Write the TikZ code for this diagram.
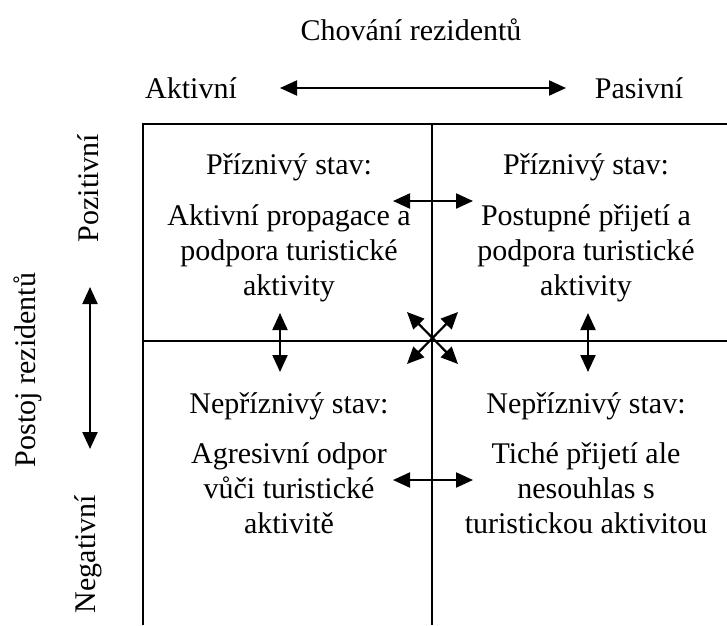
\documentclass[tikz,border=0pt]{standalone}
\usepackage{fontspec}
\setmainfont{Liberation Serif}
\usetikzlibrary{arrows.meta}
\tikzset{
  lbl/.style={font=\fontsize{30}{35}\selectfont, inner sep=0pt, align=center},
  gridline/.style={line width=2pt},
  dblarrow/.style={line width=2.2pt, {Triangle[length=17pt,width=15pt]}-{Triangle[length=17pt,width=15pt]}},
}
\begin{document}
\begin{tikzpicture}[x=1pt,y=-1pt]
\useasboundingbox (0,0) rectangle (727,625);
% grid
\draw[gridline] (143,625) -- (143,124) -- (727,124);
\draw[gridline] (432,124) -- (432,625);
\draw[gridline] (143,341) -- (727,341);
% top labels
\node[lbl] (title) at (411,30) {Chování rezidentů};
\node[lbl] (akt) at (191,88) {Aktivní};
\node[lbl] (pas) at (639,88) {Pasivní};
\coordinate (ta1) at (280,88);
\coordinate (ta2) at (566,88);
\draw[dblarrow] (ta1) -- (ta2);
% left labels
\node[lbl, rotate=90] (poz) at (88,188) {Pozitivní};
\node[lbl, rotate=90] (postoj) at (28,370) {Postoj rezidentů};
\node[lbl, rotate=90] (neg) at (88,554) {Negativní};
\coordinate (la1) at (90,287);
\coordinate (la2) at (90,449);
\draw[dblarrow] (la1) -- (la2);
% quadrant texts
\node[lbl] (h1) at (289,167) {Příznivý stav:};
\node[lbl] (b1) at (289,253) {Aktivní propagace a\\podpora turistické\\aktivity};
\node[lbl] (h2) at (586,167) {Příznivý stav:};
\node[lbl] (b2) at (586,253) {Postupné přijetí a\\podpora turistické\\aktivity};
\node[lbl] (h3) at (289,406) {Nepříznivý stav:};
\node[lbl] (b3) at (289,488) {Agresivní odpor\\vůči turistické\\aktivitě};
\node[lbl] (h4) at (586,406) {Nepříznivý stav:};
\node[lbl] (b4) at (586,488) {Tiché přijetí ale\\nesouhlas s\\turistickou aktivitou};
% inner arrows
\coordinate (a1l) at (393,201);
\coordinate (a1r) at (473,201);
\draw[dblarrow] (a1l) -- (a1r);
\coordinate (a2l) at (393,480);
\coordinate (a2r) at (473,480);
\draw[dblarrow] (a2l) -- (a2r);
\coordinate (a3t) at (280,313);
\coordinate (a3b) at (280,372);
\draw[dblarrow] (a3t) -- (a3b);
\coordinate (a4t) at (588,313);
\coordinate (a4b) at (588,372);
\draw[dblarrow] (a4t) -- (a4b);
% center cross
\coordinate (c1) at (407,312);
\coordinate (c2) at (458,364);
\coordinate (c3) at (458,312);
\coordinate (c4) at (407,364);
\draw[dblarrow] (c1) -- (c2);
\draw[dblarrow] (c3) -- (c4);
\end{tikzpicture}
\end{document}
